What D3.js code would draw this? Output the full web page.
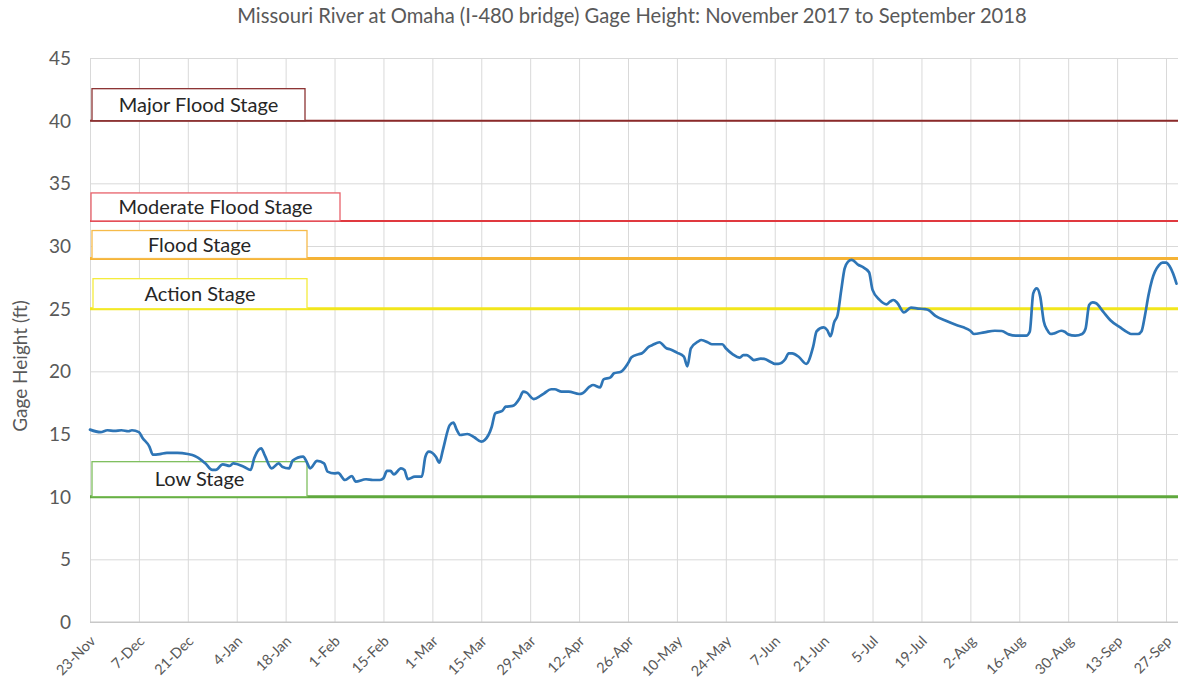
<!DOCTYPE html>
<html><head><meta charset="utf-8">
<script src="https://cdn.jsdelivr.net/npm/d3@7"></script>
<style>
body{margin:0;background:#fff;}
svg{display:block;font-family:Lato,"Open Sans",sans-serif;}
</style>
</head><body>
<svg id="chart" width="1178" height="685"></svg>
<script>
// ---------------- data ----------------
const chartTitle = "Missouri River at Omaha (I-480 bridge) Gage Height: November 2017 to September 2018";
const yAxisTitle = "Gage Height (ft)";

const dates = [
"2017-11-23","2017-11-26","2017-11-28","2017-11-30","2017-12-02","2017-12-04","2017-12-05","2017-12-07","2017-12-08","2017-12-10",
"2017-12-11","2017-12-13","2017-12-15","2017-12-18","2017-12-21","2017-12-23","2017-12-24","2017-12-26","2017-12-28","2017-12-29",
"2017-12-31","2018-01-02","2018-01-03","2018-01-06","2018-01-08","2018-01-09","2018-01-11","2018-01-12","2018-01-14","2018-01-16",
"2018-01-17","2018-01-19","2018-01-20","2018-01-23","2018-01-24","2018-01-25","2018-01-27","2018-01-29","2018-01-30","2018-02-01",
"2018-02-02","2018-02-04","2018-02-06","2018-02-07","2018-02-10","2018-02-12","2018-02-14","2018-02-15","2018-02-16","2018-02-17",
"2018-02-18","2018-02-20","2018-02-21","2018-02-22","2018-02-24","2018-02-26","2018-02-27","2018-02-28","2018-03-02","2018-03-03",
"2018-03-04","2018-03-06","2018-03-07","2018-03-08","2018-03-09","2018-03-11","2018-03-13","2018-03-15","2018-03-16","2018-03-18",
"2018-03-19","2018-03-21","2018-03-22","2018-03-24","2018-03-26","2018-03-27","2018-03-28","2018-03-30","2018-04-01","2018-04-02",
"2018-04-04","2018-04-05","2018-04-07","2018-04-09","2018-04-12","2018-04-13","2018-04-15","2018-04-16","2018-04-18","2018-04-19",
"2018-04-21","2018-04-22","2018-04-24","2018-04-26","2018-04-27","2018-04-29","2018-04-30","2018-05-02","2018-05-03","2018-05-05",
"2018-05-07","2018-05-08","2018-05-10","2018-05-12","2018-05-13","2018-05-14","2018-05-16","2018-05-17","2018-05-19","2018-05-20",
"2018-05-23","2018-05-24","2018-05-26","2018-05-28","2018-05-29","2018-05-30","2018-05-31","2018-06-01","2018-06-03","2018-06-04",
"2018-06-06","2018-06-07","2018-06-08","2018-06-10","2018-06-11","2018-06-12","2018-06-14","2018-06-16","2018-06-18","2018-06-19",
"2018-06-21","2018-06-22","2018-06-23","2018-06-24","2018-06-25","2018-06-26","2018-06-27","2018-06-28","2018-06-29","2018-07-01",
"2018-07-02","2018-07-04","2018-07-05","2018-07-07","2018-07-09","2018-07-10","2018-07-11","2018-07-12","2018-07-14","2018-07-16",
"2018-07-18","2018-07-20","2018-07-21","2018-07-23","2018-07-26","2018-07-29","2018-07-31","2018-08-02","2018-08-03","2018-08-06",
"2018-08-09","2018-08-11","2018-08-13","2018-08-15","2018-08-18","2018-08-19","2018-08-20","2018-08-21","2018-08-22","2018-08-23",
"2018-08-24","2018-08-25","2018-08-26","2018-08-28","2018-08-29","2018-08-30","2018-09-01","2018-09-03","2018-09-04","2018-09-05",
"2018-09-06","2018-09-07","2018-09-09","2018-09-11","2018-09-14","2018-09-16","2018-09-17","2018-09-19","2018-09-20","2018-09-21",
"2018-09-22","2018-09-23","2018-09-25","2018-09-26","2018-09-27","2018-09-28","2018-09-29","2018-09-30"
];
const gageHeight = [
15.35,15.15,15.3,15.25,15.3,15.22,15.3,15.15,14.7,14.0,
13.35,13.4,13.5,13.5,13.4,13.25,13.1,12.66,12.13,12.13,
12.58,12.45,12.66,12.39,12.13,13.06,13.86,13.32,12.26,12.66,
12.39,12.26,12.87,13.19,12.79,12.26,12.85,12.66,12.0,11.86,
11.9,11.33,11.65,11.2,11.39,11.33,11.33,11.47,12.05,12.05,
11.78,12.26,12.13,11.39,11.6,11.6,13.19,13.59,13.19,12.71,
13.72,15.72,15.9,15.32,14.92,15.0,14.74,14.39,14.52,15.58,
16.65,16.84,17.18,17.24,17.85,18.38,18.3,17.79,18.06,18.25,
18.57,18.57,18.38,18.38,18.19,18.25,18.78,18.91,18.72,19.36,
19.52,19.84,19.97,20.64,21.12,21.36,21.44,21.97,22.1,22.32,
21.84,21.76,21.49,21.17,20.4,21.84,22.37,22.5,22.29,22.16,
22.16,21.84,21.36,21.09,21.3,21.3,21.12,20.9,21.01,20.99,
20.72,20.59,20.59,20.96,21.44,21.44,21.12,20.6,21.97,23.2,
23.5,23.3,22.8,23.9,24.5,26.4,28.2,28.75,28.9,28.48,
28.35,27.9,26.5,25.7,25.35,25.56,25.69,25.5,24.7,25.08,
25.01,24.97,24.9,24.42,24.04,23.7,23.51,23.24,22.98,23.11,
23.24,23.22,22.95,22.85,22.85,23.16,26.22,26.62,25.96,24.0,
23.3,22.98,23.03,23.24,23.16,22.95,22.85,22.98,23.43,25.29,
25.51,25.43,24.76,24.1,23.48,23.11,22.98,22.98,23.2,24.5,
26.09,27.3,28.48,28.67,28.67,28.4,27.82,27.0
];

const tickDates = ["2017-11-23","2017-12-07","2017-12-21","2018-01-04","2018-01-18","2018-02-01","2018-02-15","2018-03-01",
"2018-03-15","2018-03-29","2018-04-12","2018-04-26","2018-05-10","2018-05-24","2018-06-07","2018-06-21","2018-07-05",
"2018-07-19","2018-08-02","2018-08-16","2018-08-30","2018-09-13","2018-09-27"];
const tickLabels = ["23-Nov","7-Dec","21-Dec","4-Jan","18-Jan","1-Feb","15-Feb","1-Mar","15-Mar","29-Mar","12-Apr","26-Apr",
"10-May","24-May","7-Jun","21-Jun","5-Jul","19-Jul","2-Aug","16-Aug","30-Aug","13-Sep","27-Sep"];
const yTicks = [0,5,10,15,20,25,30,35,40,45];

const stageNames  = ["Major Flood Stage","Moderate Flood Stage","Flood Stage","Action Stage","Low Stage"];
const stageLevels = [40,32,29,25,10];

// ---------------- style ----------------
const stageLineColors = ["#8c2a2a","#e0393f","#f5b335","#f2e61c","#5fa83d"];
const stageBoxColors  = ["#8c3333","#e8616a","#f6bb4a","#f4ec3c","#7fbf5f"];
const stageLineWidths = [2,2,3,3,3];
const stageBoxHeight  = [32,28,28,30,35];
const stageBoxLeft    = [92,91,92,93,92];
const stageBoxRight   = [305,340,307,307,307];

const W = 1178, H = 685;
const plotLeft = 90, plotTop = 58, plotBottom = 622;
const parse = d3.utcParse("%Y-%m-%d");

const x = d3.scaleUtc()
  .domain([parse("2017-11-23"), parse("2018-10-01")])
  .range([plotLeft, plotLeft + 312 * 3.4935]);
const y = d3.scaleLinear().domain([0,45]).range([plotBottom, plotTop]);

const svg = d3.select("#chart");
svg.append("rect").attr("width",W).attr("height",H).attr("fill","#fff");

// title
svg.append("text").attr("x",632).attr("y",23).attr("text-anchor","middle")
  .attr("font-size",20.2).attr("fill","#595959").text(chartTitle);

// horizontal gridlines via axis
const gy = svg.append("g").attr("transform",`translate(${plotLeft},0)`)
  .call(d3.axisLeft(y).tickValues(yTicks).tickSize(-(W-plotLeft)).tickFormat(d=>d));
gy.select(".domain").remove();
gy.selectAll(".tick line").attr("stroke", d => d===0 ? "#c8c8c8" : "#d9d9d9").attr("stroke-width",1);
gy.selectAll(".tick text").attr("x",-19).attr("dy","0.34em").attr("font-size",19)
  .attr("fill","#595959").attr("font-family","Lato,'Open Sans',sans-serif");

// vertical gridlines + labels via axis
const gx = svg.append("g").attr("transform",`translate(0,${plotBottom})`)
  .call(d3.axisBottom(x).tickValues(tickDates.map(parse)).tickSize(-(plotBottom-plotTop))
    .tickFormat((d,i)=>tickLabels[i]));
gx.select(".domain").remove();
gx.selectAll(".tick line").attr("stroke","#d9d9d9").attr("stroke-width",1);
gx.selectAll(".tick text")
  .attr("font-size",14.5).attr("fill","#595959").attr("font-family","Lato,'Open Sans',sans-serif")
  .attr("text-anchor","end").attr("dy",null).attr("y",null)
  .attr("transform","translate(6,20) rotate(-45)");

// axis baseline
svg.append("line").attr("x1",plotLeft).attr("x2",W).attr("y1",y(0)).attr("y2",y(0))
  .attr("stroke","#c8c8c8").attr("stroke-width",1.2);

// y axis title
svg.append("text").attr("transform",`translate(27,366) rotate(-90)`)
  .attr("text-anchor","middle").attr("font-size",19).attr("fill","#595959").text(yAxisTitle);

// stage lines
stageLevels.forEach((lv,i)=>{
  svg.append("line").attr("x1",plotLeft).attr("x2",W).attr("y1",y(lv)).attr("y2",y(lv))
    .attr("stroke",stageLineColors[i]).attr("stroke-width",stageLineWidths[i]);
});
// stage boxes
stageLevels.forEach((lv,i)=>{
  const yb = y(lv), yt = yb - stageBoxHeight[i];
  svg.append("rect").attr("x",stageBoxLeft[i]).attr("y",yt)
    .attr("width",stageBoxRight[i]-stageBoxLeft[i]).attr("height",stageBoxHeight[i])
    .attr("fill","#fff").attr("stroke",stageBoxColors[i]).attr("stroke-width",1.3);
  svg.append("text").attr("x",(stageBoxLeft[i]+stageBoxRight[i])/2).attr("y",(yt+yb)/2)
    .attr("dy","0.35em").attr("text-anchor","middle").attr("font-size",20)
    .attr("fill","#262626").text(stageNames[i]);
});

// data line
const pts = dates.map((d,i)=>[parse(d), gageHeight[i]]);
svg.append("path").datum(pts)
  .attr("fill","none").attr("stroke","#2e75b6").attr("stroke-width",2.7)
  .attr("stroke-linejoin","round").attr("stroke-linecap","round")
  .attr("d", d3.line().x(d=>x(d[0])).y(d=>y(d[1])).curve(d3.curveMonotoneX));
</script>
</body></html>
